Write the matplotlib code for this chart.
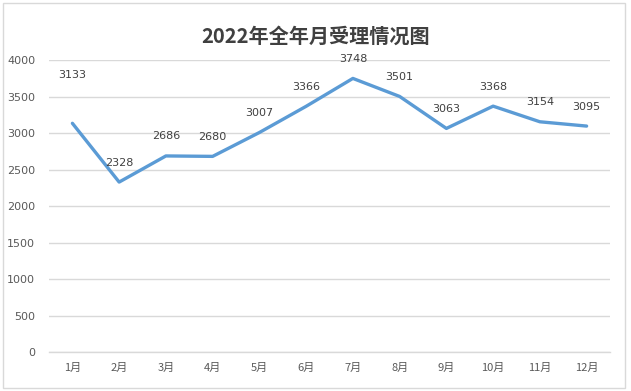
import matplotlib.pyplot as plt
from matplotlib.patches import Rectangle

plt.rcParams['font.family'] = ['Noto Sans CJK SC', 'DejaVu Sans']

months = ["1月", "2月", "3月", "4月", "5月", "6月", "7月", "8月", "9月", "10月", "11月", "12月"]
counts = [3133, 2328, 2686, 2680, 3007, 3366, 3748, 3501, 3063, 3368, 3154, 3095]
y_ticks = [0, 500, 1000, 1500, 2000, 2500, 3000, 3500, 4000]

fig = plt.figure(figsize=(6.31, 3.91), dpi=100)
ax = fig.add_axes([0.0777, 0.0997, 0.889, 0.7468])

x = list(range(len(months)))
ax.plot(x, counts, color="#5B9BD5", linewidth=2.4, solid_capstyle="round", zorder=3)

# data labels above each point (first one sits higher in the reference)
for i, v in enumerate(counts):
    dy = 35 if i == 0 else 14
    ax.annotate(str(v), (i, v), xytext=(0, dy), textcoords="offset points",
                ha="center", va="center", fontsize=8, color="#404040",
                family="DejaVu Sans")

ax.set_xlim(-0.5, len(months) - 0.5)
ax.set_ylim(0, 4000)
ax.set_yticks(y_ticks)
ax.set_yticklabels([str(t) for t in y_ticks], family="DejaVu Sans")
ax.set_xticks(x)
ax.set_xticklabels(months)
ax.tick_params(axis="both", length=0, labelsize=8, colors="#595959")
ax.tick_params(axis="y", pad=10)
ax.tick_params(axis="x", pad=8)

ax.grid(axis="y", color="#D9D9D9", linewidth=1)
ax.set_axisbelow(True)
for s in ["left", "right", "top"]:
    ax.spines[s].set_visible(False)
ax.spines["bottom"].set_color("#D9D9D9")
ax.spines["bottom"].set_linewidth(1)

fig.text(0.5, 0.908, "2022年全年月受理情况图", ha="center", va="center",
         fontsize=14.5, fontweight="bold", color="#404040")

# outer chart border
fig.patches.append(Rectangle((0.004, 0.008), 0.987, 0.985, transform=fig.transFigure,
                             fill=False, edgecolor="#D9D9D9", linewidth=1))

fig.savefig("out.png", dpi=100)
